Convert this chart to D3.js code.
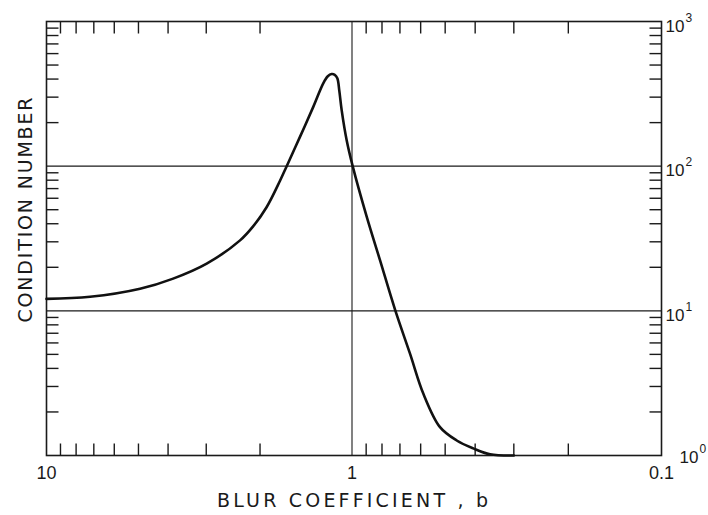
<!DOCTYPE html>
<html>
<head>
<meta charset="utf-8">
<script src="https://cdn.jsdelivr.net/npm/d3@7"></script>
<style>
  html, body { margin: 0; padding: 0; background: #fff; }
  svg { display: block; }
  text { font-family: "DejaVu Sans", sans-serif; fill: #1a1a1a; }
  .tl { font-family: "Liberation Sans", Arial, sans-serif; }
</style>
</head>
<body>
<svg id="chart" width="708" height="515"></svg>
<script>
// ---- data ----
const blurCoefficient = [10, 7.2, 4.94, 3.85, 2.99, 2.325, 2.104, 1.904, 1.722, 1.636, 1.479, 1.339, 1.242, 1.2, 1.166, 1.139, 1.117, 1.1, 1.081, 1.041, 0.995, 0.896, 0.812, 0.726, 0.6495, 0.588, 0.5196, 0.4589, 0.4056, 0.358, 0.3];
const conditionNumber = [12.1, 12.5, 14.2, 16.7, 21.2, 30.7, 38.5, 52, 79, 100, 160, 257, 374, 418, 433, 428, 405, 330, 244, 151, 100, 44.6, 22.4, 10.2, 5.06, 2.67, 1.57, 1.27, 1.12, 1.02, 1.0];
const xTickValues = [10, 1, 0.1];
const xTickLabels = ["10", "1", "0.1"];
const yTickExponents = [3, 2, 1, 0];
const xGridValues = [1];
const yGridValues = [10, 100];
const xTitle = "BLUR COEFFICIENT , b";
const yTitle = "CONDITION NUMBER";

// ---- layout ----
const pL = 46.5, pM = 352, pR = 661.5, pT = 21.5, pB = 455.5;
const ink = "#1a1a1a";
const tickLen = 12;

const svg = d3.select("#chart");
// piecewise log scale (the hand-drawn decades are slightly unequal)
const x = d3.scaleLog().domain([10, 1, 0.1]).range([pL, pM, pR]);
const y = d3.scaleLog().domain([1, 1000]).range([pB, pT]);

const isPow10 = v => Math.abs(Math.log10(v) - Math.round(Math.log10(v))) < 1e-9;
const xMinor = d3.scaleLog().domain([0.1, 10]).ticks().filter(v => !isPow10(v));
const yMinor = y.ticks().filter(v => !isPow10(v));

const g = svg.append("g");

// minor ticks, all pointing inward
g.selectAll(".xb").data(xMinor).join("line")
  .attr("x1", d => x(d)).attr("x2", d => x(d))
  .attr("y1", pB).attr("y2", pB - tickLen)
  .attr("stroke", ink).attr("stroke-width", 1.4);
g.selectAll(".xt").data(xMinor).join("line")
  .attr("x1", d => x(d)).attr("x2", d => x(d))
  .attr("y1", pT).attr("y2", pT + tickLen)
  .attr("stroke", ink).attr("stroke-width", 1.4);
g.selectAll(".yl").data(yMinor).join("line")
  .attr("x1", pL).attr("x2", pL + tickLen)
  .attr("y1", d => y(d)).attr("y2", d => y(d))
  .attr("stroke", ink).attr("stroke-width", 1.4);
g.selectAll(".yr").data(yMinor).join("line")
  .attr("x1", pR).attr("x2", pR - tickLen)
  .attr("y1", d => y(d)).attr("y2", d => y(d))
  .attr("stroke", ink).attr("stroke-width", 1.4);

// grid lines
g.selectAll(".gx").data(xGridValues).join("line")
  .attr("x1", d => x(d)).attr("x2", d => x(d))
  .attr("y1", pT).attr("y2", pB)
  .attr("stroke", ink).attr("stroke-width", 1.1);
g.selectAll(".gy").data(yGridValues).join("line")
  .attr("x1", pL).attr("x2", pR)
  .attr("y1", d => y(d)).attr("y2", d => y(d))
  .attr("stroke", ink).attr("stroke-width", 1.1);

// frame
g.append("rect")
  .attr("x", pL).attr("y", pT)
  .attr("width", pR - pL).attr("height", pB - pT)
  .attr("fill", "none").attr("stroke", ink).attr("stroke-width", 1.6);

// curve
const pts = blurCoefficient.map((b, i) => [x(b), y(conditionNumber[i])]);
g.append("path")
  .attr("d", d3.line().curve(d3.curveCatmullRom.alpha(0.5))(pts))
  .attr("fill", "none").attr("stroke", "#111").attr("stroke-width", 2.6)
  .attr("stroke-linejoin", "round").attr("stroke-linecap", "round");

// x tick labels
g.selectAll(".xl").data(xTickValues).join("text")
  .attr("class", "tl")
  .attr("x", d => x(d)).attr("y", pB + 23)
  .attr("text-anchor", "middle").attr("font-size", 18)
  .text((d, i) => xTickLabels[i]);

// y tick labels on right (10^n)
yTickExponents.forEach(e => {
  const ty = y(Math.pow(10, e));
  const tx = e === 0 ? pR + 18 : pR + 4;
  const t = g.append("text")
    .attr("class", "tl")
    .attr("x", tx).attr("y", ty + (e === 0 ? 7 : 10))
    .attr("font-size", 17);
  t.append("tspan").text("10");
  t.append("tspan").attr("font-size", 12).attr("dy", -10).attr("dx", 1).text(String(e));
});

// axis titles
g.append("text")
  .attr("x", 352.5).attr("y", 507)
  .attr("text-anchor", "middle").attr("font-size", 19)
  .attr("textLength", 271).attr("lengthAdjust", "spacing")
  .text(xTitle);

g.append("text")
  .attr("transform", "translate(32," + 210 + ") rotate(-90)")
  .attr("text-anchor", "middle").attr("font-size", 19)
  .attr("textLength", 225).attr("lengthAdjust", "spacing")
  .text(yTitle);
</script>
</body>
</html>
